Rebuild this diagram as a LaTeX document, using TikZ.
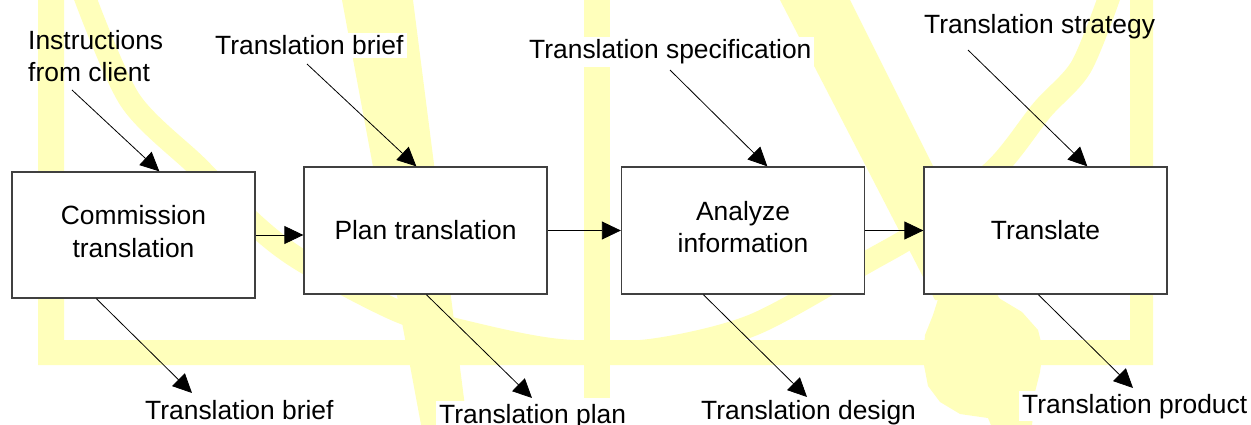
\documentclass[tikz,border=0pt]{standalone}
\usepackage{fontspec}
\setmainfont{Liberation Sans}
\usetikzlibrary{arrows.meta,calc}
\definecolor{wm}{HTML}{FFFFBB}
\definecolor{boxline}{HTML}{404040}
\begin{document}
\begin{tikzpicture}[x=1pt,y=-1pt,
  font=\fontsize{26.4}{32.5}\selectfont,
  procbox/.style={draw=boxline,line width=1.3pt,fill=white,minimum width=243pt,minimum height=127pt,align=center,inner sep=0pt},
  lbl/.style={inner sep=0pt,anchor=base west},
  lblw/.style={lbl,fill=white,inner xsep=3pt,inner ysep=3pt},
  arr/.style={line width=0.8pt,-{Triangle[length=19pt,width=18pt]}},
  wmline/.style={draw=wm,line width=22pt},
]
\useasboundingbox (0,0) rectangle (1251,425);
\fill[white] (0,0) rectangle (1251,425);
% watermark
\begin{scope}
\clip (0,0) rectangle (1251,425);
\fill[wm] (38,0) -- (38,365) -- (1153,365) -- (1153,0) -- (1130,0) -- (1130,340) -- (64,340) -- (64,0) -- cycle;
\fill[wm] (584,0) rectangle (610,398);
\fill[wm] (342,0) -- (413,0) -- (468,430) -- (422,430) -- cycle;
\fill[wm] (780,0) -- (850,0) -- (1000,300) -- (935,300) -- cycle;
\fill[wm] (940,293) -- (997,297) -- (1022,312) -- (1038,330) -- (1043,350) -- (1040,372) -- (1033,400) -- (1032,430) -- (993,430) -- (988,418) -- (960,414) -- (940,402) -- (928,386) -- (923,360) -- (925,335) -- (933,315) -- cycle;
\draw[wmline] plot[smooth,tension=0.5] coordinates {(84,-5) (130,100) (198,167) (255,225) (304,262) (400,312) (480,335) (560,350) (650,350) (753,325) (867,262) (924,228) (997,167) (1042,110) (1081,67) (1110,-5)};
\end{scope}
% process boxes
\node[procbox,minimum height=126pt,text depth=7pt] (b1) at (133.5,235) {Commission\\translation};
\node[procbox] (b2) at (425.5,230.5) {Plan translation};
\node[procbox,text depth=7pt] (b3) at (743,230.5) {Analyze\\information};
\node[procbox] (b4) at (1045.5,230.5) {Translate};
% flow
\draw[arr] (b1.east) -- (b2.west |- b1.east);
\draw[arr] (b2.east) -- (b3.west);
\draw[arr] (b3.east) -- (b4.west);
% input labels
\node[inner sep=0pt,anchor=north west,align=left] (l1) at (28,30) {Instructions\\from client};
\node[lblw] (l2) at (212,55) {Translation brief};
\node[lblw] (l3) at (526,59) {Translation specification};
\node[lbl] (l4) at (924,34) {Translation strategy};
\coordinate (i1) at (72,90);
\coordinate (i2) at (307,64);
\coordinate (i3) at (670,70);
\coordinate (i4) at (968,50);
\draw[arr] (i1) -- ($(b1.north west)+(148,0)$);
\draw[arr] (i2) -- ($(b2.north west)+(113,0)$);
\draw[arr] (i3) -- ($(b3.north west)+(146.5,0)$);
\draw[arr] (i4) -- ($(b4.north west)+(164,0)$);
% output labels
\node[lblw] (o1l) at (142,419) {Translation brief};
\node[lblw] (o2l) at (436,423) {Translation plan};
\node[lblw] (o3l) at (698,419) {Translation design};
\node[lblw] (o4l) at (1019,413) {Translation product};
\coordinate (o1) at (192,393);
\coordinate (o2) at (532,398);
\coordinate (o3) at (807,397);
\coordinate (o4) at (1133,388);
\draw[arr] ($(b1.south west)+(85,0)$) -- (o1);
\draw[arr] ($(b2.south west)+(123,0)$) -- (o2);
\draw[arr] ($(b3.south west)+(82.5,0)$) -- (o3);
\draw[arr] ($(b4.south west)+(115,0)$) -- (o4);
\end{tikzpicture}
\end{document}
